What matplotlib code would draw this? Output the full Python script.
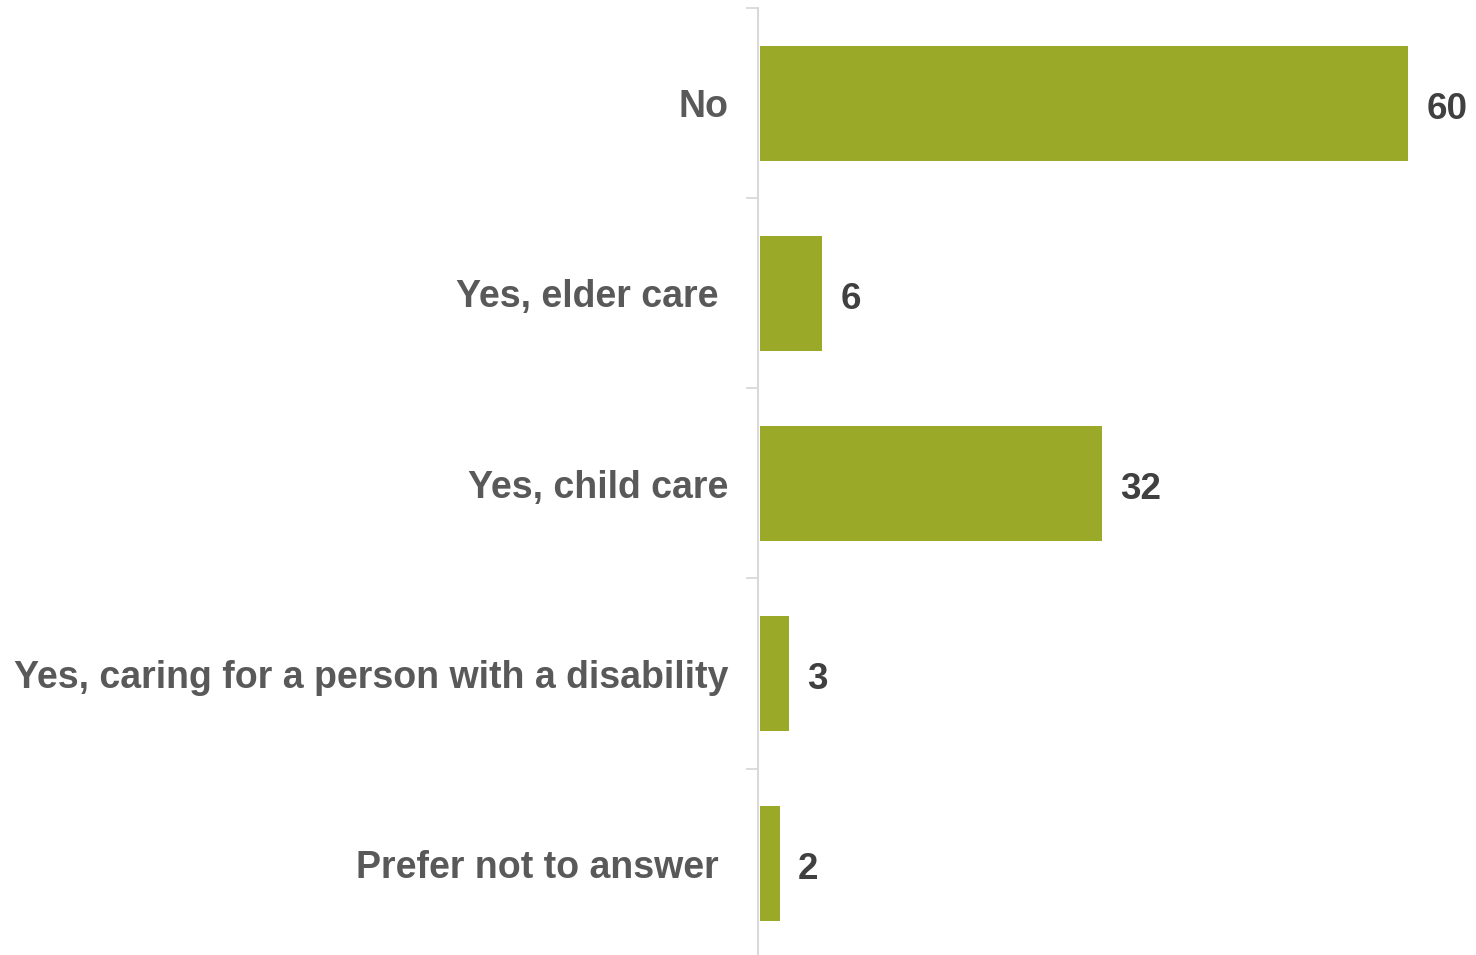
import matplotlib.pyplot as plt
import numpy as np

# Categories (top to bottom) and values
categories = ['No', 'Yes, elder care ', 'Yes, child care',
              'Yes, caring for a person with a disability', 'Prefer not to answer ']
values = [60, 5.8, 31.7, 2.7, 1.9]
value_labels = ['60', '6', '32', '3', '2']

plt.rcParams['font.family'] = ['Liberation Sans', 'DejaVu Sans']

fig = plt.figure(figsize=(14.76, 9.55), dpi=100)
ax = fig.add_axes([758 / 1476, 1 - 958.5 / 955, 718 / 1476, 950 / 955])

y = np.arange(len(categories))
ax.barh(y, values, height=0.61, left=0.15, color='#9AAA28', zorder=2)

# value labels to the right of each bar
for yi, v, lab in zip(y, values, value_labels):
    ax.annotate(lab, xy=(v + 0.15, yi), xytext=(18, -2), textcoords='offset pixels',
                ha='left', va='center_baseline', fontsize=26.5, fontweight='bold', color='#404040')

ax.set_xlim(0, 66.4)
ax.set_ylim(len(categories) - 0.5, -0.5)

ax.set_yticks(y)
ax.set_yticklabels(categories, fontsize=27, fontweight='bold', color='#595959')
ax.tick_params(axis='y', which='major', length=0, pad=21)
ax.set_yticks(np.arange(-0.5, len(categories), 1), minor=True)
ax.tick_params(axis='y', which='minor', length=8.6, width=1.3, color='#D9D9D9')

ax.set_xticks([])
for s in ['top', 'right', 'bottom']:
    ax.spines[s].set_visible(False)
ax.spines['left'].set_color('#D9D9D9')
ax.spines['left'].set_linewidth(1.5)

fig.savefig('out.png', dpi=100)
